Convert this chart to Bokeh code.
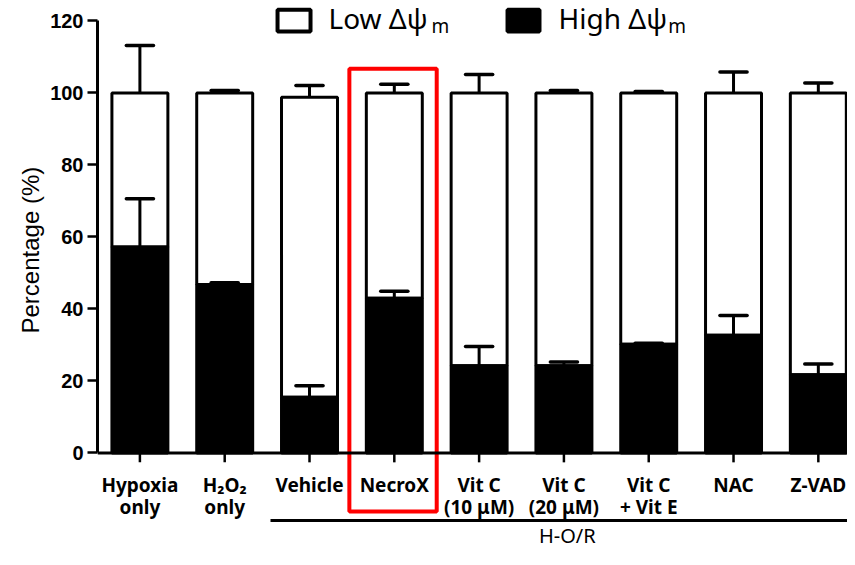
from bokeh.plotting import figure
from bokeh.models import Range1d, FixedTicker, Span, Title
from bokeh.core.properties import value
from bokeh.embed import file_html
from bokeh.resources import INLINE

# ---------------- data ----------------
categories = ["Hypoxia\nonly", "H\u2082O\u2082\nonly", "Vehicle", "NecroX",
              "Vit C\n(10 \u03bcM)", "Vit C\n(20 \u03bcM)", "Vit C\n+ Vit E", "NAC", "Z-VAD"]
high_psi = [57.2, 46.8, 15.5, 43.0, 24.2, 24.2, 30.2, 32.7, 21.7]
high_err = [13.4, 0.5, 3.2, 1.9, 5.4, 1.1, 0.3, 5.5, 3.0]
low_psi = [42.8, 53.2, 83.3, 57.0, 75.8, 75.8, 69.8, 67.3, 78.3]
low_err = [13.2, 0.7, 3.3, 2.4, 5.1, 0.7, 0.4, 5.8, 2.8]
y_ticks = [0, 20, 40, 60, 80, 100, 120]
y_label = "Percentage (%)"
legend_labels = ["Low \u0394\u03c8", "High \u0394\u03c8"]
legend_sub = "m"
group_label = "H-O/R"
group_first = 3          # first category (1-based index) under the H-O/R bracket
highlight = 4            # NecroX

# ---------------- derived ----------------
n = len(categories)
xs = list(range(1, n + 1))
line1 = [c.split("\n")[0] for c in categories]
line2 = [c.split("\n")[1] if "\n" in c else "" for c in categories]
low_bottom = high_psi
low_top = [h + l for h, l in zip(high_psi, low_psi)]

BW = 0.66
CAP = 0.16
X_END = 9.344

p = figure(width=847, height=549, x_range=Range1d(0.5, X_END), y_range=Range1d(-26.81, 125.69),
           output_backend="svg", toolbar_location=None, x_axis_location=None,
           min_border_left=97, min_border_right=0, min_border_top=0, min_border_bottom=0)
p.outline_line_color = None
p.grid.visible = False
p.background_fill_color = "white"

# y axis
ya = p.yaxis[0]
ya.bounds = (0, 120)
ya.ticker = FixedTicker(ticks=y_ticks)
ya.minor_tick_line_color = None
ya.axis_line_width = 3
ya.axis_line_color = "black"
ya.major_tick_line_width = 2.5
ya.major_tick_line_color = "black"
ya.major_tick_in = 0
ya.major_tick_out = 10
ya.major_label_standoff = 4
ya.major_label_text_font = "Liberation Sans"
ya.major_label_text_font_style = "bold"
ya.major_label_text_font_size = "20px"
ya.major_label_text_color = "black"

p.add_layout(Title(text=y_label, align="left", offset=216, standoff=8,
                   text_font="Liberation Sans", text_font_size="24px",
                   text_font_style="normal", text_color="black"), "left")

# x axis line + ticks
p.add_layout(Span(location=0, dimension="width", line_color="black", line_width=3))
p.segment(x0=xs, y0=[0] * n, x1=xs, y1=[-2.6] * n, line_color="black", line_width=2.5)

# bars
p.vbar(x=xs, width=BW, bottom=low_bottom, top=low_top, fill_color="white",
       line_color="black", line_width=3)
hi_top = [h + e for h, e in zip(high_psi, high_err)]
p.segment(x0=xs, y0=high_psi, x1=xs, y1=hi_top, line_color="black", line_width=3)
p.segment(x0=[x - CAP for x in xs], y0=hi_top, x1=[x + CAP for x in xs], y1=hi_top,
          line_color="black", line_width=3.5, line_cap="round")
p.vbar(x=xs, width=BW, bottom=0, top=high_psi, fill_color="black",
       line_color="black", line_width=3)
lo_top = [t + e for t, e in zip(low_top, low_err)]
p.segment(x0=xs, y0=low_top, x1=xs, y1=lo_top, line_color="black", line_width=3)
p.segment(x0=[x - CAP for x in xs], y0=lo_top, x1=[x + CAP for x in xs], y1=lo_top,
          line_color="black", line_width=3.5, line_cap="round")

# category labels
p.text(x=xs, y=[-9.03] * n, text=line1, text_align="center", text_baseline="alphabetic",
       text_font=value("Noto Sans"), text_font_style="bold", text_font_size="19px",
       text_color="black")
p.text(x=xs, y=[-15.03] * n, text=line2, text_align="center", text_baseline="alphabetic",
       text_font=value("Noto Sans"), text_font_style="bold", text_font_size="19px",
       text_color="black")

# H-O/R bracket
g0 = group_first - 0.46
p.segment(x0=[g0], y0=[-18.75], x1=[X_END], y1=[-18.75], line_color="black", line_width=3)
p.text(x=[6.04], y=[-22.8], text=[group_label], text_align="center", text_baseline="alphabetic",
       text_font=value("Noto Sans"), text_font_size="20px", text_color="black")

# highlight box
p.quad(left=[highlight - 0.53], right=[highlight + 0.50], bottom=[-16.25], top=[106.7],
       fill_color=None, line_color="#ff0000", line_width=4)

# legend
p.quad(left=[2.623], right=[3.012], bottom=[117.1], top=[123.1], fill_color="white",
       line_color="black", line_width=4)
p.quad(left=[5.335], right=[5.712], bottom=[117.1], top=[123.1], fill_color="black",
       line_color="black", line_width=4)
p.text(x=[3.224, 5.936], y=[120.7, 120.7], text=legend_labels, text_align="left",
       text_baseline="alphabetic", text_font=value("Noto Sans"), text_font_size="28px",
       text_color="black")
p.text(x=[4.44, 7.23], y=[118.47, 118.47], text=[legend_sub, legend_sub], text_align="left",
       text_baseline="alphabetic", text_font=value("Noto Sans"), text_font_size="19px",
       text_color="black")

open("out.html", "w").write(file_html(p, INLINE))
